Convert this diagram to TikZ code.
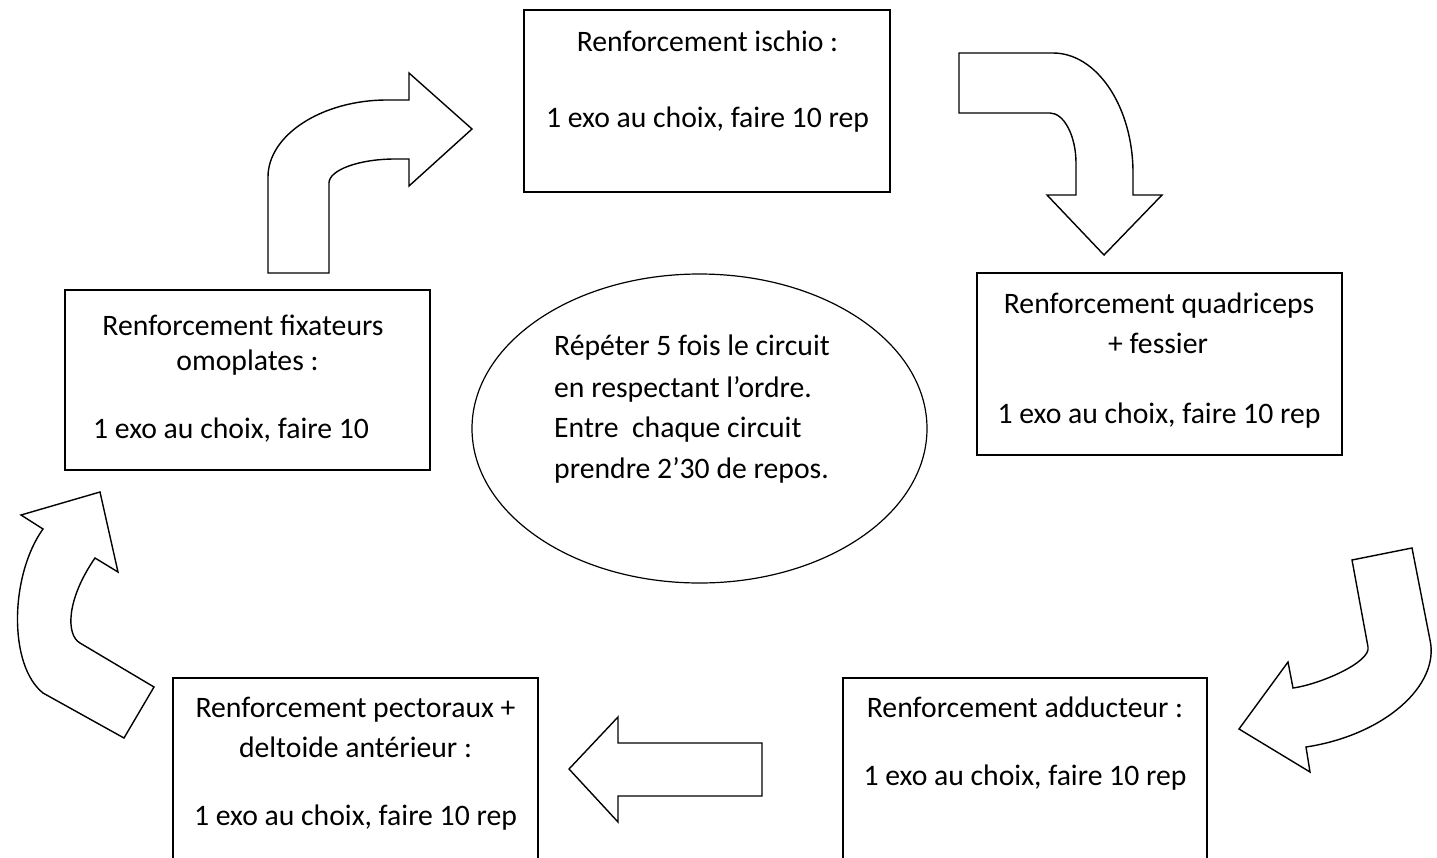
\documentclass[tikz,border=0pt]{standalone}
\usepackage{fontspec}
\setmainfont{Carlito}
\usetikzlibrary{shapes.geometric}
\begin{document}
\begin{tikzpicture}[x=1pt,y=-1pt,
  box/.style={draw=black,line width=1.4pt,rectangle,inner sep=0pt},
  txt/.style={font=\fontsize{29.7}{35}\selectfont,inner sep=0pt,anchor=base},
  txtl/.style={font=\fontsize{29.7}{35}\selectfont,inner sep=0pt,anchor=base west},
  bigarrow/.style={draw=black,line width=1.4pt,fill=white,line join=miter}]
\clip (0,0) rectangle (1437,857);
\fill[white] (0,0) rectangle (1437,857);

% boxes
\node[box,minimum width=366pt,minimum height=182pt] (ischio) at (707,101) {};
\node[box,minimum width=365pt,minimum height=182pt] (quad) at (1159.5,364) {};
\node[box,minimum width=365pt,minimum height=180pt] (fix) at (247.5,380) {};
\node[box,minimum width=365pt,minimum height=220pt] (pect) at (355.5,788) {};
\node[box,minimum width=364pt,minimum height=220pt] (add) at (1025,788) {};
\node[draw=black,line width=1.2pt,ellipse,minimum width=455pt,minimum height=309pt,inner sep=0pt] (centre) at (699.5,428.5) {};

% texts
\node[txt] (t1a) at (707.5,51) {Renforcement ischio :};
\node[txt] (t1b) at (707.5,127) {1 exo au choix, faire 10 rep};

\node[txt] (t2a) at (1159,313) {Renforcement quadriceps};
\node[txt] (t2b) at (1158,353) {+ fessier};
\node[txt] (t2c) at (1159,423) {1 exo au choix, faire 10 rep};

\node[txt] (t3a) at (243,335) {Renforcement fixateurs};
\node[txt] (t3b) at (247.5,370) {omoplates :};
\node[txtl] (t3c) at (93,438) {1 exo au choix, faire 10};

\node[txt] (t4a) at (355.5,717) {Renforcement pectoraux +};
\node[txt] (t4b) at (355.5,757) {deltoide antérieur :};
\node[txt] (t4c) at (355.5,825) {1 exo au choix, faire 10 rep};

\node[txt] (t5a) at (1025,717) {Renforcement adducteur :};
\node[txt] (t5b) at (1025,785) {1 exo au choix, faire 10 rep};

\node[txtl] (c1) at (554,355) {Répéter 5 fois le circuit};
\node[txtl] (c2) at (554,397) {en respectant l’ordre.};
\node[txtl] (c3) at (554,437) {Entre\ \ chaque circuit};
\node[txtl] (c4) at (554,478) {prendre 2’30 de repos.};

% arrow 1 : up then right
\draw[bigarrow] (268,273) -- (329,273) -- (329,183)
  .. controls (329,170) and (359,159) .. (395,159)
  -- (409,159) -- (409,186) -- (472,129) -- (409,73) -- (409,100) -- (387,100)
  .. controls (322,100) and (268,135) .. (268,177) -- cycle;

% arrow 2 : right then down
\draw[bigarrow] (959,53) -- (1053,53)
  .. controls (1097,53) and (1133,107) .. (1133,173)
  -- (1133,195) -- (1162,195) -- (1104,255) -- (1047,195) -- (1076,195) -- (1076,163)
  .. controls (1076,136) and (1064,113) .. (1050,113)
  -- (959,113) -- cycle;

% arrow 3 : down then left
\draw[bigarrow] (1352,560) -- (1412,548) -- (1430,640)
  .. controls (1440,685) and (1385,735) .. (1306,747)
  -- (1310,772) -- (1239,729) -- (1288,662) -- (1293,688)
  .. controls (1321,684) and (1371,662) .. (1368,647)
  -- cycle;

% arrow 4 : up-left curve
\draw[bigarrow] (124,738) -- (154,687) -- (80,643)
  .. controls (66,635) and (66,600) .. (95,558)
  -- (118,572) -- (100,492) -- (21,515) -- (43,529)
  .. controls (10,575) and (8,665) .. (43,693)
  -- cycle;

% arrow 5 : straight left
\draw[bigarrow] (569,769) -- (618,717) -- (618,743) -- (762,743) -- (762,796)
  -- (618,796) -- (618,822) -- cycle;
\end{tikzpicture}
\end{document}
